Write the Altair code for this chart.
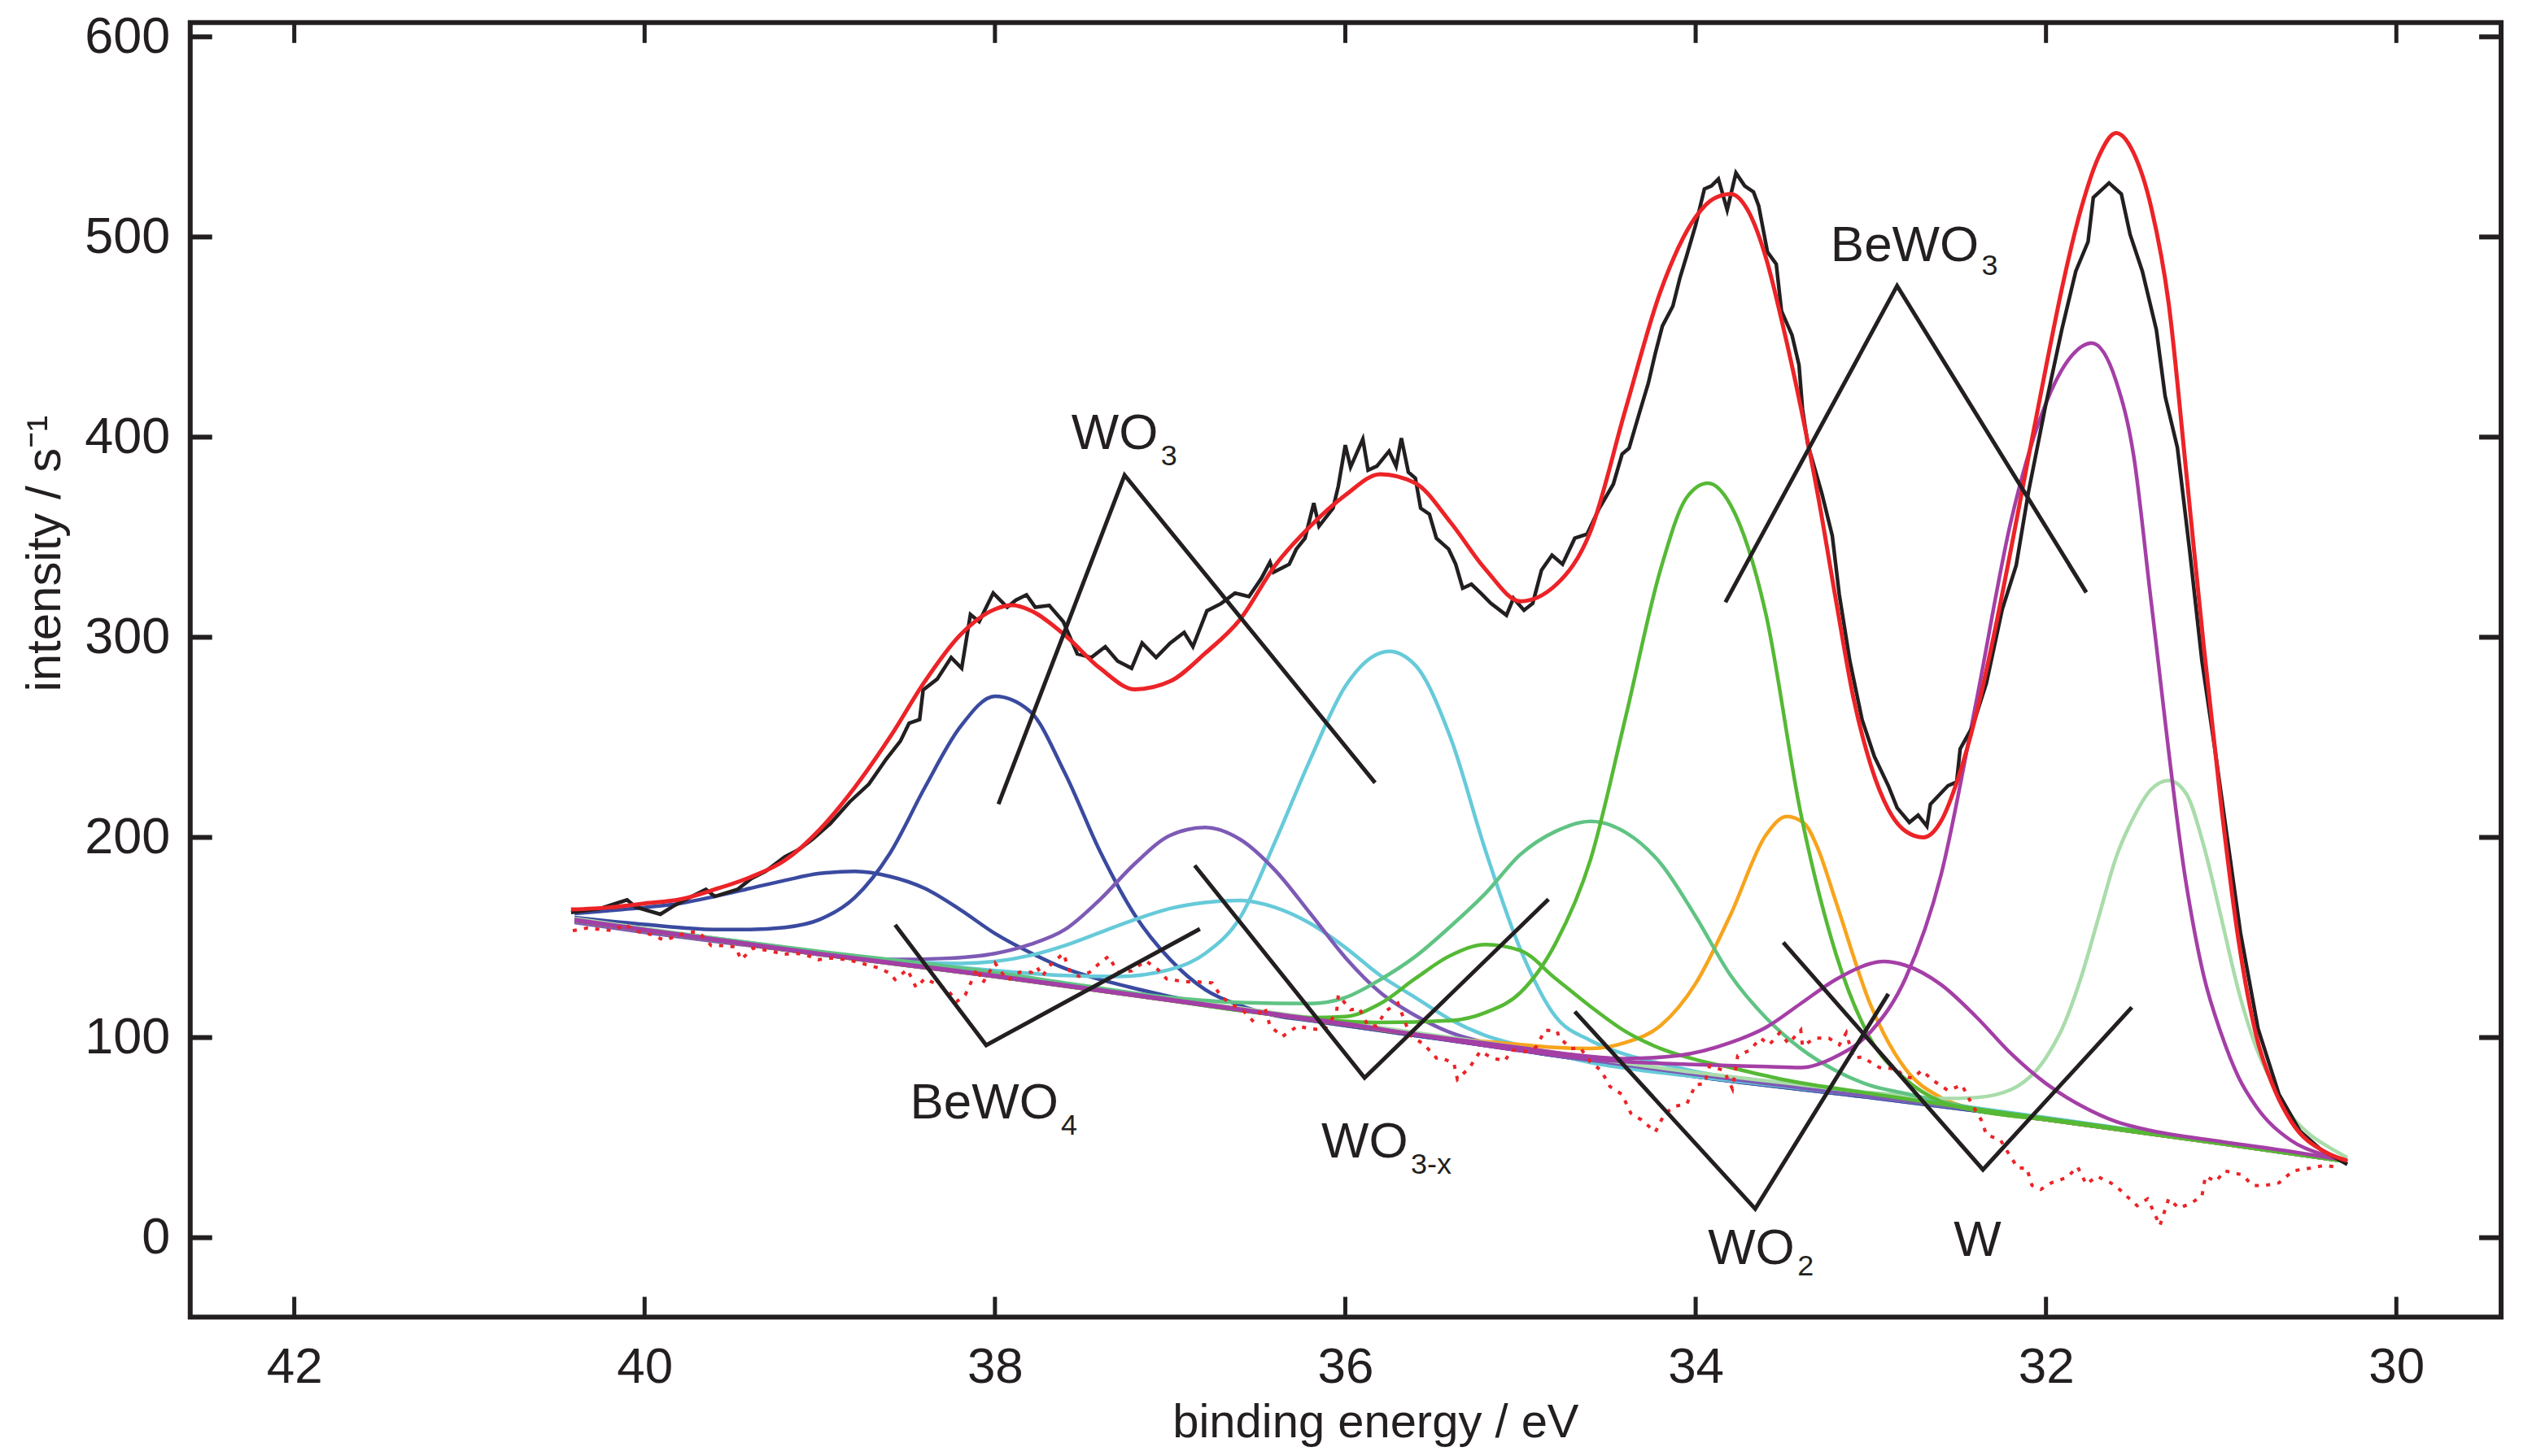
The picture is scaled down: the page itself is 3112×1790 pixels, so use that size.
import altair as alt
import pandas as pd

# ---- values: (binding energy / eV, intensity / s^-1) ----
MEASURED = [
    (40.42, 162.5), (40.26, 164.3), (40.10, 168.8), (40.05, 165.2), (39.91, 161.6), (39.83, 166.0),
    (39.73, 170.5), (39.65, 174.0), (39.60, 170.5), (39.47, 174.0), (39.39, 179.5), (39.31, 183.0),
    (39.20, 190.3), (39.12, 193.9), (39.04, 199.2), (38.94, 206.9), (38.83, 217.7), (38.72, 226.6),
    (38.62, 239.2), (38.54, 248.1), (38.49, 257.1), (38.43, 258.9), (38.41, 273.7), (38.33, 279.1),
    (38.25, 289.9), (38.19, 284.5), (38.14, 311.4), (38.09, 307.8), (38.01, 322.1), (37.93, 315.0),
    (37.88, 318.6), (37.82, 321.2), (37.77, 315.0), (37.69, 315.9), (37.61, 307.8), (37.53, 291.7),
    (37.45, 289.9), (37.37, 295.3), (37.30, 288.1), (37.22, 284.5), (37.16, 297.1), (37.08, 289.9),
    (37.00, 297.1), (36.92, 302.4), (36.87, 295.3), (36.79, 313.2), (36.71, 316.8), (36.63, 322.1),
    (36.55, 320.3), (36.48, 329.3), (36.43, 337.5), (36.41, 332.5), (36.32, 336.5), (36.28, 344.0),
    (36.23, 349.5), (36.18, 367.0), (36.15, 355.5), (36.07, 364.5), (36.04, 375.5), (36.00, 396.0),
    (35.97, 385.0), (35.90, 399.0), (35.87, 383.5), (35.82, 385.5), (35.75, 393.0), (35.71, 385.5),
    (35.68, 399.5), (35.64, 382.5), (35.60, 379.5), (35.57, 364.5), (35.52, 361.5), (35.48, 349.5),
    (35.41, 344.0), (35.37, 336.5), (35.33, 324.5), (35.28, 326.5), (35.22, 321.5), (35.17, 317.0),
    (35.08, 311.0), (35.04, 319.5), (34.98, 313.5), (34.93, 317.0), (34.88, 333.5), (34.82, 341.0),
    (34.76, 336.5), (34.69, 349.5), (34.62, 351.5), (34.55, 364.5), (34.47, 376.5), (34.42, 391.5),
    (34.38, 394.5), (34.33, 409.5), (34.27, 427.0), (34.23, 442.0), (34.19, 455.5), (34.13, 465.5),
    (34.09, 479.5), (34.05, 491.0), (34.00, 506.0), (33.95, 524.0), (33.91, 525.5), (33.87, 529.0),
    (33.82, 513.5), (33.77, 532.0), (33.72, 525.5), (33.67, 522.5), (33.64, 515.5), (33.59, 492.5),
    (33.54, 486.5), (33.51, 463.0), (33.45, 451.0), (33.41, 436.0), (33.39, 414.0), (33.36, 396.5),
    (33.28, 372.0), (33.22, 350.7), (33.18, 321.3), (33.12, 288.3), (33.05, 258.9), (32.98, 240.5),
    (32.90, 225.8), (32.85, 214.8), (32.78, 207.5), (32.73, 211.1), (32.68, 205.6), (32.66, 216.6),
    (32.56, 225.8), (32.51, 227.7), (32.49, 244.2), (32.42, 255.2), (32.34, 277.2), (32.25, 313.9),
    (32.17, 336.0), (32.10, 372.7), (32.00, 416.8), (31.91, 453.6), (31.83, 482.9), (31.76, 497.6),
    (31.73, 519.7), (31.64, 527.0), (31.57, 521.5), (31.52, 501.3), (31.45, 482.9), (31.37, 453.6),
    (31.32, 420.5), (31.25, 394.8), (31.18, 343.4), (31.11, 288.3), (31.03, 240.5), (30.96, 196.4),
    (30.89, 152.4), (30.79, 104.6), (30.67, 71.6), (30.55, 53.2), (30.43, 44.0), (30.28, 36.6),
]

FIT_SUM = [
    (40.42, 164), (40.2, 165), (40.0, 167), (39.8, 169), (39.6, 174), (39.4, 180), (39.2, 188.5),
    (39.0, 204), (38.8, 225), (38.6, 250), (38.4, 278), (38.2, 301), (38.0, 314), (37.9, 316),
    (37.8, 313.5), (37.6, 301), (37.4, 284.5), (37.2, 274), (37.0, 278), (36.8, 292), (36.6, 309),
    (36.4, 336), (36.2, 355.5), (36.0, 371), (35.8, 381.5), (35.6, 377), (35.4, 357.5), (35.2, 334),
    (35.0, 318), (34.8, 326), (34.6, 353), (34.4, 414), (34.2, 473), (34.0, 510), (33.9, 519),
    (33.8, 521.5), (33.7, 513), (33.6, 490), (33.5, 455), (33.4, 415), (33.3, 370), (33.2, 319),
    (33.1, 270), (33.0, 236), (32.9, 214), (32.8, 203), (32.7, 200), (32.6, 208), (32.5, 230),
    (32.4, 261), (32.3, 300), (32.2, 344), (32.1, 390), (32.0, 435), (31.9, 478), (31.8, 514),
    (31.7, 540), (31.6, 552), (31.5, 542), (31.4, 515), (31.3, 467), (31.2, 383), (31.1, 296),
    (31.0, 216), (30.9, 148), (30.8, 101), (30.7, 75), (30.6, 58), (30.4, 42.5), (30.28, 38.5),
]

RESIDUAL = [
    (40.41, 153.4), (40.33, 154.7), (40.18, 153.4), (40.11, 156.7), (40.06, 153.4), (39.96, 151.4),
    (39.89, 148.7), (39.84, 150.0), (39.75, 152.7), (39.69, 152.7), (39.62, 146.0), (39.57, 146.0),
    (39.48, 145.3), (39.45, 138.9), (39.38, 144.7), (39.28, 143.3), (39.21, 141.6), (39.13, 142.0),
    (39.08, 141.3), (39.01, 138.9), (38.93, 139.7), (38.84, 138.9), (38.74, 136.6), (38.67, 134.9),
    (38.61, 132.6), (38.57, 129.0), (38.50, 134.0), (38.45, 125.0), (38.40, 129.5), (38.27, 123.9),
    (38.22, 117.9), (38.17, 121.2), (38.10, 134.6), (38.07, 127.3), (38.00, 137.3), (37.93, 128.6),
    (37.86, 132.6), (37.79, 132.6), (37.76, 135.3), (37.73, 130.6), (37.68, 136.6), (37.61, 142.0),
    (37.57, 132.6), (37.52, 130.6), (37.46, 132.6), (37.41, 136.6), (37.35, 140.7), (37.30, 132.6),
    (37.22, 133.3), (37.14, 138.4), (37.07, 134.0), (37.02, 129.3), (36.92, 127.9), (36.85, 127.9),
    (36.76, 127.3), (36.71, 120.6), (36.65, 116.6), (36.58, 113.2), (36.53, 108.5), (36.46, 115.2),
    (36.43, 105.8), (36.36, 100.5), (36.27, 105.8), (36.21, 104.5), (36.12, 103.8), (36.05, 112.5),
    (36.04, 121.2), (35.97, 113.9), (35.92, 114.6), (35.87, 105.8), (35.82, 105.8), (35.77, 113.2),
    (35.70, 117.2), (35.63, 101.2), (35.55, 96.5), (35.48, 89.8), (35.45, 89.8), (35.38, 87.1),
    (35.36, 79.1), (35.29, 85.1), (35.23, 93.1), (35.16, 89.8), (35.09, 88.3), (35.05, 93.7),
    (34.96, 93.0), (34.91, 95.3), (34.86, 103.7), (34.79, 103.1), (34.78, 100.1), (34.71, 94.4),
    (34.66, 95.0), (34.60, 87.7), (34.54, 83.6), (34.49, 75.6), (34.42, 71.6), (34.37, 62.2),
    (34.31, 58.9), (34.23, 52.8), (34.18, 61.6), (34.12, 65.6), (34.05, 66.9), (34.00, 76.5),
    (33.95, 76.9), (33.92, 85.9), (33.84, 83.6), (33.79, 74.3), (33.76, 91.0), (33.69, 93.7),
    (33.63, 99.7), (33.58, 96.4), (33.52, 102.4), (33.47, 97.0), (33.40, 103.7), (33.39, 95.7),
    (33.32, 99.7), (33.24, 99.7), (33.18, 96.4), (33.14, 102.4), (33.10, 89.7), (33.05, 90.3),
    (32.95, 85.0), (32.85, 84.3), (32.82, 81.0), (32.76, 79.6), (32.71, 83.6), (32.64, 78.3),
    (32.56, 73.6), (32.48, 76.3), (32.42, 66.2), (32.37, 58.9), (32.34, 51.5), (32.26, 48.8),
    (32.21, 41.5), (32.16, 34.8), (32.11, 34.8), (32.08, 26.1), (32.03, 24.1), (31.97, 27.4),
    (31.88, 30.1), (31.82, 35.4), (31.77, 26.7), (31.71, 30.7), (31.63, 27.4), (31.58, 24.1),
    (31.53, 20.0), (31.48, 16.0), (31.42, 19.4), (31.38, 12.0), (31.35, 6.0), (31.30, 19.4),
    (31.24, 14.7), (31.17, 17.4), (31.11, 20.7), (31.09, 30.7), (31.03, 28.1), (30.98, 33.4),
    (30.88, 31.4), (30.82, 26.1), (30.75, 26.1), (30.67, 27.4), (30.59, 33.4), (30.49, 34.8),
    (30.41, 36.1), (30.35, 35.4),
]

# fitted components (each on its own background)
BLUE_BROAD = [
    (40.4, 162), (40.0, 165), (39.8, 167), (39.6, 170.5), (39.4, 174.5), (39.2, 178.5), (39.0, 182),
    (38.8, 183), (38.6, 180.5), (38.4, 174.5), (38.2, 164), (38.0, 152), (37.8, 142.5), (37.6, 134.5),
    (37.4, 129), (37.2, 124.5), (37.0, 120.5), (36.6, 114), (36.2, 108.5), (36.0, 106), (35.0, 93.5),
    (34.0, 80.5), (33.0, 70), (32.0, 59), (31.0, 47), (30.28, 38),
]
BLUE_TALL = [
    (40.4, 160), (40.0, 156.5), (39.6, 154), (39.4, 154), (39.2, 155), (39.0, 159), (38.8, 170),
    (38.6, 192), (38.4, 225), (38.2, 255), (38.0, 270.5), (37.8, 263), (37.6, 232), (37.4, 193),
    (37.2, 161), (37.0, 139), (36.8, 124), (36.6, 116), (36.4, 111), (36.2, 108.5), (36.0, 106),
    (35.0, 93.5), (34.0, 80.5), (33.0, 70), (32.0, 59), (31.0, 47), (30.28, 38),
]
PURPLE = [
    (40.4, 157.5), (40.0, 152.5), (39.5, 147), (39.0, 142), (38.6, 139), (38.3, 139.5), (38.0, 142),
    (37.8, 146.5), (37.6, 154), (37.4, 169), (37.2, 187), (37.0, 201), (36.8, 205), (36.6, 199),
    (36.4, 183.5), (36.2, 162), (36.0, 140), (35.8, 122.5), (35.6, 111), (35.4, 102.5), (35.2, 97.5),
    (35.0, 94), (34.8, 91), (34.5, 87.5), (34.0, 81.5), (33.0, 70.5), (32.0, 59.5), (31.0, 47.5),
    (30.28, 38),
]
CYAN_BROAD = [
    (40.4, 158.5), (40.0, 154), (39.5, 148.5), (39.0, 142.5), (38.6, 138.5), (38.2, 137), (38.0, 138),
    (37.8, 141), (37.6, 146), (37.4, 152.5), (37.2, 159), (37.0, 164.5), (36.8, 167.5), (36.6, 168.5),
    (36.4, 165), (36.2, 157), (36.0, 145), (35.8, 131), (35.6, 120), (35.4, 109), (35.2, 101),
    (35.0, 96), (34.8, 91.5), (34.6, 87.5), (34.3, 83.5), (34.0, 80.5), (33.0, 70.5), (32.0, 59.5),
    (31.0, 47), (30.28, 38),
]
CYAN_TALL = [
    (40.4, 158.5), (40.0, 154), (39.5, 148.5), (39.0, 142.5), (38.5, 137.5), (38.0, 133.5), (37.6, 131),
    (37.3, 130.5), (37.0, 134), (36.8, 142), (36.6, 160), (36.4, 198), (36.2, 239), (36.0, 275.5),
    (35.85, 290), (35.75, 293), (35.6, 286), (35.4, 250), (35.2, 193.5), (35.0, 144), (34.8, 110.5),
    (34.6, 98.5), (34.4, 91.5), (34.2, 87), (34.0, 83), (33.5, 77), (33.0, 71.5), (32.5, 66),
    (32.0, 60), (31.0, 47.5), (30.28, 38),
]
GREEN_SMALL = [
    (40.4, 158.5), (40.0, 153.5), (39.5, 147.5), (39.0, 141.5), (38.5, 136), (38.0, 130.5), (37.5, 124.5),
    (37.0, 118.5), (36.6, 113.5), (36.4, 111.5), (36.2, 110), (36.0, 110.5), (35.8, 117), (35.6, 129.5),
    (35.4, 141), (35.2, 146.5), (35.0, 143.5), (34.8, 129.5), (34.6, 115.5), (34.4, 103), (34.2, 94.5),
    (34.0, 89), (33.8, 85), (33.5, 79), (33.0, 72), (32.5, 65.5), (32.0, 59.5), (31.0, 47.5),
    (30.28, 38),
]
SEA_GREEN = [
    (40.4, 158.5), (40.0, 154), (39.5, 148.5), (39.0, 143), (38.5, 138), (38.0, 132.5), (37.5, 126),
    (37.0, 120), (36.6, 117.5), (36.2, 117), (36.0, 120), (35.8, 129), (35.6, 140.5), (35.4, 155.5),
    (35.2, 172), (35.0, 191.5), (34.8, 203), (34.6, 208), (34.4, 202.5), (34.2, 187), (34.0, 160.5),
    (33.8, 131), (33.6, 110), (33.4, 94.5), (33.2, 83.5), (33.0, 76), (32.8, 72), (32.6, 68),
    (32.4, 64.5), (32.0, 59.5), (31.0, 47.5), (30.28, 38),
]
GREEN_TALL = [
    (40.4, 158.5), (40.0, 153.5), (39.5, 147.5), (39.0, 141.5), (38.5, 136), (38.0, 130.5), (37.5, 124.5),
    (37.0, 118.5), (36.6, 113.5), (36.2, 109.5), (35.8, 107.5), (35.4, 108.5), (35.2, 112.5),
    (35.0, 122.5), (34.8, 147), (34.6, 189), (34.4, 260), (34.2, 334), (34.05, 370), (33.93, 377),
    (33.8, 366), (33.6, 312), (33.4, 212), (33.2, 142), (33.0, 99), (32.8, 79), (32.6, 68),
    (32.4, 63.5), (32.0, 59), (31.0, 47), (30.28, 38),
]
ORANGE = [
    (40.4, 158.5), (40.0, 153.5), (39.5, 147.5), (39.0, 141.5), (38.5, 136), (38.0, 130.5), (37.5, 124.5),
    (37.0, 118.5), (36.5, 112.5), (36.0, 106.5), (35.5, 100.5), (35.0, 96.5), (34.8, 95), (34.6, 94.5),
    (34.4, 97.5), (34.2, 106), (34.0, 127), (33.8, 161.5), (33.6, 201), (33.48, 210.5), (33.38, 207),
    (33.3, 194), (33.2, 168), (33.0, 116), (32.8, 84), (32.6, 70), (32.4, 64), (32.0, 59),
    (31.0, 47), (30.28, 38),
]
MAGENTA_BROAD = [
    (40.4, 158.5), (40.0, 153.5), (39.5, 147.5), (39.0, 141.5), (38.5, 136), (38.0, 130.5), (37.5, 124.5),
    (37.0, 118.5), (36.5, 112.5), (36.0, 106.5), (35.5, 100.5), (35.0, 95), (34.7, 91.5), (34.4, 89.5),
    (34.1, 91), (33.8, 97.5), (33.6, 105), (33.4, 117), (33.2, 129), (33.0, 137), (32.93, 138),
    (32.8, 136), (32.6, 126.5), (32.4, 110.5), (32.2, 92), (32.0, 77), (31.8, 66), (31.6, 58),
    (31.4, 53.5), (31.0, 48), (30.6, 43), (30.28, 38.5),
]
MAGENTA_TALL = [
    (40.4, 159), (40.0, 154), (39.5, 148), (39.0, 142), (38.5, 136.5), (38.0, 131), (37.5, 125),
    (37.0, 119), (36.5, 113), (36.0, 107), (35.5, 100), (35.0, 93.5), (34.5, 88.5), (34.0, 86.5),
    (33.6, 85.5), (33.4, 85), (33.2, 90.5), (33.0, 103), (32.8, 130), (32.6, 181), (32.4, 267),
    (32.2, 358), (32.0, 417), (31.85, 441), (31.74, 447), (31.6, 428), (31.5, 391), (31.4, 318),
    (31.2, 177), (31.1, 131), (31.0, 102), (30.9, 80), (30.8, 65.5), (30.6, 48.5), (30.4, 41),
    (30.28, 38),
]
LIGHT_GREEN = [
    (40.4, 159.5), (40.0, 154.5), (39.0, 142.5), (38.0, 131.5), (37.0, 119.5), (36.0, 107.5), (35.0, 95),
    (34.0, 82.5), (33.5, 77.5), (33.0, 72.5), (32.8, 71), (32.6, 69.5), (32.4, 70), (32.2, 74),
    (32.0, 90), (31.9, 106), (31.8, 130), (31.7, 160), (31.6, 190), (31.5, 210), (31.4, 224),
    (31.3, 228.5), (31.2, 222), (31.1, 196), (31.0, 160), (30.9, 123), (30.8, 95), (30.7, 76),
    (30.6, 61), (30.5, 52), (30.4, 46), (30.28, 40),
]

# leader lines of the species labels
LEAD_WO3 = [(37.98, 216.6), (37.26, 381.0), (35.83, 227.3)]
LEAD_BEWO3 = [(33.83, 317.5), (32.85, 475.6), (31.77, 322.4)]
LEAD_BEWO4 = [(38.57, 156.3), (38.05, 96.2), (36.83, 154.3)]
LEAD_WO3X = [(36.86, 186.0), (35.89, 79.9), (34.84, 169.1)]
LEAD_WO2 = [(34.69, 113.0), (33.66, 14.4), (32.90, 121.8)]
LEAD_W = [(33.50, 147.5), (32.36, 34.0), (31.51, 115.1)]

LABEL_TEXT = ["WO", "BeWO", "BeWO", "WO", "WO", "W"]
LABEL_E = [37.564, 33.23, 38.485, 36.137, 33.93, 32.527]
LABEL_I = [394.0, 488.0, 59.7, 40.0, -13.3, -9.0]
SUB_TEXT = ["3", "3", "4", "3-x", "2"]
SUB_E = [37.053, 32.368, 37.623, 35.626, 33.419]
SUB_I = [386.0, 481.0, 51.6, 32.0, -18.7]

X_TICKS = [42, 40, 38, 36, 34, 32, 30]
Y_TICKS = [0, 100, 200, 300, 400, 500, 600]

# ---- layout / style ----
X_DOMAIN = [42.594, 29.402]
Y_DOMAIN = [-39.7, 607.1]
W, H = 2843, 1593
FONT = "Liberation Sans"
INK = "#231f20"
LW = 4.5

x_scale = alt.Scale(domain=X_DOMAIN, zero=False, nice=False)
y_scale = alt.Scale(domain=Y_DOMAIN, zero=False, nice=False)

X = alt.X(
    "E:Q", scale=x_scale,
    axis=alt.Axis(
        values=X_TICKS, format="d", ticks=False, tickSize=0, domain=False, grid=False,
        labelFont=FONT, labelFontSize=62, labelColor=INK, labelPadding=31, labelFlush=False,
        title="binding energy / eV", titleFont=FONT, titleFontSize=58, titleFontWeight="normal",
        titleColor=INK, titleX=1458, titleY=147, titleAlign="center", titleBaseline="alphabetic",
    ),
)
Y = alt.Y(
    "I:Q", scale=y_scale,
    axis=alt.Axis(
        values=Y_TICKS, format="d", ticks=False, tickSize=0, domain=False, grid=False,
        labelFont=FONT, labelFontSize=63, labelColor=INK, labelPadding=25, labelFlush=False,
        title="intensity / s\u207b\u00b9", titleFont=FONT, titleFontSize=60, titleFontWeight="normal",
        titleColor=INK, titleAngle=270, titleX=-160, titleY=653, titleAlign="center",
        titleBaseline="alphabetic",
    ),
)


def frame(points):
    return pd.DataFrame(points, columns=["E", "I"])


def curve(points, color, width=LW, **kw):
    return alt.Chart(frame(points)).mark_line(
        color=color, strokeWidth=width, interpolate="monotone", clip=True, **kw
    ).encode(x=X, y=Y)


components = [
    curve(BLUE_BROAD, "#3a4a9f"),
    curve(BLUE_TALL, "#3a4a9f"),
    curve(CYAN_BROAD, "#66cad9"),
    curve(CYAN_TALL, "#66cad9"),
    curve(PURPLE, "#7d5ab5"),
    curve(ORANGE, "#f7a41d"),
    curve(LIGHT_GREEN, "#a9dcaa"),
    curve(SEA_GREEN, "#60c384"),
    curve(GREEN_SMALL, "#55b935"),
    curve(GREEN_TALL, "#55b935"),
    curve(MAGENTA_BROAD, "#a43fa6"),
    curve(MAGENTA_TALL, "#a43fa6"),
]

measured = alt.Chart(frame(MEASURED)).mark_line(
    color=INK, strokeWidth=4.5, clip=True
).encode(x=X, y=Y)

fit = curve(FIT_SUM, "#ec2327", width=5)

residual = alt.Chart(frame(RESIDUAL)).mark_line(
    color="#ec2327", strokeWidth=4, strokeDash=[5, 9], clip=True
).encode(x=X, y=Y)

leaders = []
for name, pts in [("WO3", LEAD_WO3), ("BeWO3", LEAD_BEWO3), ("BeWO4", LEAD_BEWO4),
                  ("WO3-x", LEAD_WO3X), ("WO2", LEAD_WO2), ("W", LEAD_W)]:
    leaders.append(frame(pts).assign(group=name))
leader_df = pd.concat(leaders, ignore_index=True)
leader = alt.Chart(leader_df).mark_line(color=INK, strokeWidth=5).encode(
    x=X, y=Y, detail="group:N"
)

labels = alt.Chart(pd.DataFrame({"E": LABEL_E, "I": LABEL_I, "t": LABEL_TEXT})).mark_text(
    align="left", baseline="alphabetic", font=FONT, fontSize=62, color=INK
).encode(x=X, y=Y, text="t:N")

subs = alt.Chart(pd.DataFrame({"E": SUB_E, "I": SUB_I, "t": SUB_TEXT})).mark_text(
    align="left", baseline="alphabetic", font=FONT, fontSize=36, color=INK
).encode(x=X, y=Y, text="t:N")

# inward ticks on all four sides of the frame
dy = 25 * (Y_DOMAIN[1] - Y_DOMAIN[0]) / H
dx = 27 * (X_DOMAIN[0] - X_DOMAIN[1]) / W
xt = pd.DataFrame(
    [(t, Y_DOMAIN[0], Y_DOMAIN[0] + dy) for t in X_TICKS]
    + [(t, Y_DOMAIN[1], Y_DOMAIN[1] - dy) for t in X_TICKS],
    columns=["E", "I", "I2"],
)
yt = pd.DataFrame(
    [(X_DOMAIN[0], t, X_DOMAIN[0] - dx) for t in Y_TICKS]
    + [(X_DOMAIN[1], t, X_DOMAIN[1] + dx) for t in Y_TICKS],
    columns=["E", "I", "E2"],
)
x_ticks = alt.Chart(xt).mark_rule(color=INK, strokeWidth=5).encode(x=X, y=Y, y2="I2:Q")
y_ticks = alt.Chart(yt).mark_rule(color=INK, strokeWidth=6).encode(x=X, x2="E2:Q", y=Y)

chart = (
    alt.layer(*components, measured, fit, residual, leader, x_ticks, y_ticks, labels, subs)
    .properties(
        width=W, height=H,
        autosize=alt.AutoSizeParams(type="none"),
        padding={"left": 226, "top": 19, "right": 30, "bottom": 160},
        background="white",
    )
    .configure_view(stroke=INK, strokeWidth=6)
)

chart.save("out.html", embed_options={"renderer": "svg", "actions": False})
